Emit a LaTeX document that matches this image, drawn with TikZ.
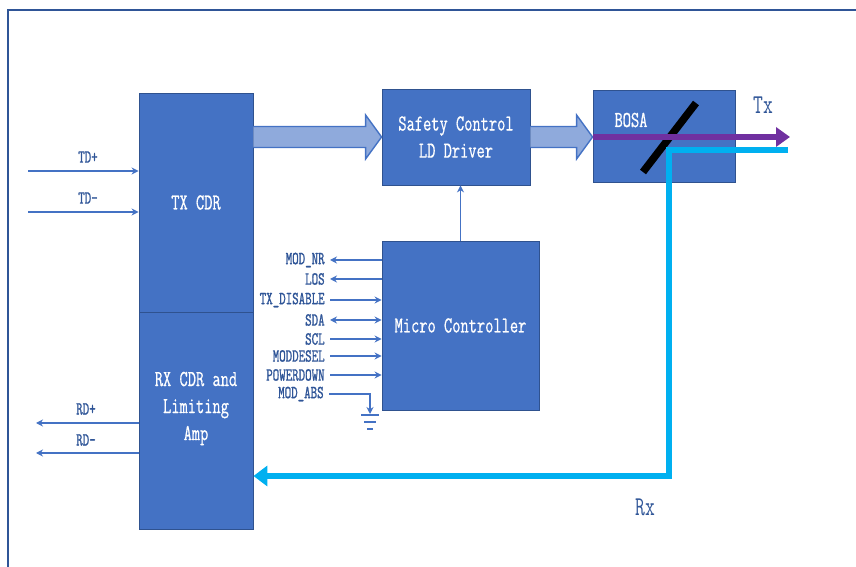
\documentclass[tikz,border=0pt]{standalone}
\usepackage{fontspec}
\setmainfont{Latin Modern Mono}[FakeStretch=0.7]
\newfontfamily\sigfont{Latin Modern Mono}[FakeStretch=0.67, FakeBold=1]
\newfontfamily\boxfont{Latin Modern Mono}[FakeStretch=0.7, FakeBold=0.6]
\usetikzlibrary{arrows.meta, positioning, calc}
\definecolor{BlockBlue}{HTML}{4472C4}
\definecolor{BlockEdge}{HTML}{2F528F}
\definecolor{PipeFill}{HTML}{8FAADC}
\definecolor{LabelBlue}{HTML}{2F5597}
\definecolor{BeamPurple}{HTML}{7030A0}
\definecolor{BeamCyan}{HTML}{00B0F0}

\begin{document}
\begin{tikzpicture}[
    x=0.02cm, y=-0.02cm,
    >={Stealth[length=4pt,width=4pt]},
    block/.style={
        fill=BlockBlue,
        draw=BlockEdge,
        line width=0.5pt,
        text=white,
        align=center,
        inner sep=0pt,
        font=\boxfont\fontsize{13}{15.4}\selectfont
    },
    blocktext/.style={text=white, align=center, inner sep=0pt, font=\boxfont\fontsize{13}{15.4}\selectfont},
    pipe/.style={fill=PipeFill, draw=BlockBlue, line width=0.8pt, line join=miter},
    siglabel/.style={text=LabelBlue, inner xsep=0.1cm, inner ysep=0pt, font=\sigfont\fontsize{10.5}{11}\selectfont},
    sigline/.style={draw=BlockBlue, line width=1.1pt},
    tipin/.style={<-},
    tipout/.style={->},
    tipboth/.style={<->},
    pinline/.style={draw=BlockBlue, line width=1.3pt},
    beamlabel/.style={text=LabelBlue, font=\fontsize{15.5}{17}\selectfont},
    txbeam/.style={draw=BeamPurple, line width=0.12cm, -{Triangle[length=0.28cm,width=0.38cm]}},
    rxbeam/.style={draw=BeamCyan, line width=0.12cm, line join=miter, -{Triangle[length=0.28cm,width=0.4cm]}}
]
\useasboundingbox (0,0) rectangle (856,567);

% outer frame
\draw[LabelBlue, line width=1.4pt] (8,580) -- (8,10) -- (870,10);

% blocks
\node[block, minimum width=2.28cm, minimum height=4.38cm] (txcdr) at (196,202.5) {TX CDR};
\node[block, minimum width=2.28cm, minimum height=4.34cm] (rxcdr) at (196,420.5) {};
\node[blocktext] (rxtext) at ($(rxcdr)+(0,-12)$) {RX CDR and\\Limiting\\Amp};
\node[block, minimum width=2.96cm, minimum height=1.92cm] (safety) at (456,137) {Safety Control\\LD Driver};
\node[block, minimum width=2.84cm, minimum height=1.84cm] (bosa) at (664,136) {};
\node[blocktext] (bosalbl) at (631,120) {BOSA};
\node[block, minimum width=3.14cm, minimum height=3.38cm] (micro) at (460.5,325.5) {Micro Controller};

% wide data arrows
\draw[pipe] ($(txcdr.east|-safety.west)+(0,-10.5)$) -- ($(safety.west)+(-16,-10.5)$)
    -- ($(safety.west)+(-16,-22)$) -- (safety.west) -- ($(safety.west)+(-16,22)$)
    -- ($(safety.west)+(-16,10.5)$) -- ($(txcdr.east|-safety.west)+(0,10.5)$);
\draw[pipe] ($(safety.east)+(0,-10.5)$) -- ($(bosa.west|-safety.east)+(-16,-10.5)$)
    -- ($(bosa.west|-safety.east)+(-16,-22)$) -- (bosa.west|-safety.east) -- ($(bosa.west|-safety.east)+(-16,22)$)
    -- ($(bosa.west|-safety.east)+(-16,10.5)$) -- ($(safety.east)+(0,10.5)$);

% control line
\draw[sigline, line width=0.8pt, ->] (micro.north) -- (safety.south-|micro.north);

% optics
\coordinate (txend) at (790,137);
\coordinate (rxin) at (788,150);
\coordinate (rxturn) at (669,476);
\draw[black, line width=0.15cm] (643,172) -- (696,103);
\draw[txbeam] (bosa.west|-txend) -- (txend);
\draw[rxbeam] (rxin) -| (rxturn) -- (rxcdr.east|-rxturn);
\node[beamlabel] (txlbl) at (763,105) {Tx};
\node[beamlabel] (rxlbl) at (645,507) {Rx};

% host side pins
\coordinate (tdp) at (28,171);
\coordinate (tdn) at (28,212);
\coordinate (rdp) at (36,423);
\coordinate (rdn) at (36,453);
\draw[pinline, ->] (tdp) -- (txcdr.west|-tdp);
\draw[pinline, ->] (tdn) -- (txcdr.west|-tdn);
\draw[pinline, ->] (rxcdr.west|-rdp) -- (rdp);
\draw[pinline, ->] (rxcdr.west|-rdn) -- (rdn);
\node[siglabel] (tdplbl) at (88,157) {TD+};
\node[siglabel] (tdnlbl) at (88,198) {TD-};
\node[siglabel] (rdplbl) at (86,409) {RD+};
\node[siglabel] (rdnlbl) at (86,440) {RD-};

% management signals
\foreach \sig/\y/\dir [count=\i] in {MOD\_NR/260/tipin, LOS/279/tipin, TX\_DISABLE/300/tipout,
        SDA/320/tipboth, SCL/339/tipout, MODDESEL/356/tipout, POWERDOWN/375/tipout} {
    \node[siglabel, anchor=east] (sig\i) at (330,\y) {\sig};
    \draw[sigline, \dir] (sig\i.east) -- (micro.west|-sig\i.east);
}
\node[siglabel, anchor=east] (modabs) at (329,394) {MOD\_ABS};
\coordinate (gnd) at (370,414);
\draw[sigline, ->] (modabs.east) -| (gnd);
\draw[sigline] ($(gnd)+(-9,1)$) -- ++(18,0)
    ($(gnd)+(-6,8)$) -- ++(12,0) ($(gnd)+(-3,15)$) -- ++(6,0);

\end{tikzpicture}
\end{document}
